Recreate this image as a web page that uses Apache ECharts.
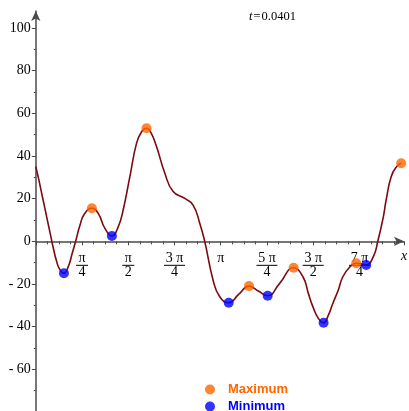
<!DOCTYPE html>
<html>
<head>
<meta charset="utf-8">
<script src="https://cdn.jsdelivr.net/npm/echarts@6/dist/echarts.min.js"></script>
<style>html,body{margin:0;padding:0;background:#fff;}#c{width:409px;height:411px;}</style>
</head>
<body>
<div id="c"></div>
<script>
// ---- data ----
const curveX = [0.000, 0.050, 0.100, 0.150, 0.200, 0.250, 0.300, 0.350, 0.400, 0.478, 0.550, 0.620, 0.677, 0.750, 0.830, 0.953, 1.060, 1.174, 1.293, 1.400, 1.484, 1.598, 1.711, 1.800, 1.881, 1.960, 2.051, 2.192, 2.333, 2.531, 2.672, 2.786, 2.870, 3.011, 3.125, 3.277, 3.450, 3.622, 3.780, 3.939, 4.143, 4.380, 4.538, 4.630, 4.707, 4.800, 4.889, 4.970, 5.047, 5.139, 5.216, 5.338, 5.443, 5.530, 5.613, 5.734, 5.810, 5.904, 5.952, 6.037, 6.130, 6.207];
const curveY = [35.0, 29.0, 22.5, 16.0, 9.5, 3.0, -3.5, -9.0, -12.8, -15.0, -12.0, -5.5, 0.0, 7.5, 13.0, 15.5, 13.1, 6.1, 2.5, 6.8, 14.7, 30.3, 45.9, 51.5, 53.0, 50.7, 44.4, 31.9, 23.3, 20.1, 17.0, 8.4, 0.0, -18.1, -26.0, -28.8, -24.8, -21.0, -23.3, -25.5, -19.7, -12.4, -16.6, -24.4, -30.6, -36.1, -38.2, -34.6, -29.0, -22.8, -16.6, -11.9, -10.3, -10.6, -11.1, -7.2, 0.0, 11.5, 19.4, 30.3, 35.0, 36.6];
const maxX = [0.953, 1.881, 3.622, 4.380, 5.443, 6.207];
const maxY = [15.5, 53.0, -21.0, -12.4, -10.3, 36.6];
const minX = [0.478, 1.293, 3.277, 3.939, 4.889, 5.613];
const minY = [-15.0, 2.5, -28.8, -25.5, -38.2, -11.1];
const xTickLabels = ['', 'π/4', 'π/2', '3 π/4', 'π', '5 π/4', '3 π/2', '7 π/4', ''];
const yTickLabels = [-60, -40, -20, 0, 20, 40, 60, 80, 100];
const titleValue = '0.0401';
// ---------------------------------------------

const serif = 'Liberation Serif';
const axisColor = '#4a4a4a';
const q = Math.PI / 4;
const X_MIN = 0, X_MAX = 6.255, Y_MIN = -80, Y_MAX = 108, Y_TICK_MAX = 100;

function fracLabel(value) {
  const k = Math.round(value / q);
  if (Math.abs(value - k * q) > 1e-6) return '';
  const t = xTickLabels[k] || '';
  if (!t) return '';
  if (t.indexOf('/') < 0) return '{n|' + t + '}';
  const parts = t.split('/');
  const bar = parts[0].length > 1 ? 'b2' : 'b1';
  return '{n|' + parts[0] + '}\n{' + bar + '| }\n{d|' + parts[1] + '}';
}

// pixel geometry of the plot
const gLeft = 35.8, gTop = 10.9, gWidth = 368.2, gHeight = 401.1;
const pxPerY = gHeight / (Y_MAX - Y_MIN);
const zeroPix = gTop + pxPerY * (Y_MAX - 0);
const tickTop = gTop + pxPerY * (Y_MAX - Y_TICK_MAX);

const chart = echarts.init(document.getElementById('c'), null, {renderer: 'canvas'});
chart.setOption({
  animation: false,
  backgroundColor: '#fff',
  title: {
    text: '{i|t}{e|=}' + titleValue,
    left: 249, top: 10, padding: 0,
    textStyle: {
      fontFamily: serif, fontSize: 12.5, fontWeight: 'normal', color: '#000',
      rich: {
        i: {fontFamily: serif, fontStyle: 'italic', fontSize: 12.5, color: '#000'},
        e: {fontFamily: serif, fontSize: 12.5, color: '#000', padding: [0, 1, 0, 1]}
      }
    }
  },
  graphic: [{
    type: 'text', left: 401, top: 249,
    style: {text: 'x', fontFamily: serif, fontStyle: 'italic', fontSize: 14, fill: '#000'}
  }],
  legend: {
    orient: 'vertical', left: 205, top: 382.5, height: 40, padding: 0,
    itemWidth: 26, itemHeight: 10, itemGap: 3,
    icon: 'circle',
    textStyle: {fontFamily: 'Liberation Sans', fontWeight: 'bold', fontSize: 13, lineHeight: 14},
    data: [
      {name: 'Maximum', textStyle: {color: '#ff6600'}},
      {name: 'Minimum', textStyle: {color: '#0000ff'}}
    ]
  },
  grid: [
    {left: gLeft, top: gTop, width: gWidth, height: gHeight, containLabel: false, outerBoundsMode: 'none'},
    {left: gLeft, top: gTop, width: gWidth, height: zeroPix - gTop, containLabel: false, outerBoundsMode: 'none'},
    {left: gLeft, top: tickTop, width: gWidth, height: gTop + gHeight - tickTop, containLabel: false, outerBoundsMode: 'none'}
  ],
  xAxis: [
    {gridIndex: 0, type: 'value', min: X_MIN, max: X_MAX, show: false},
    {
      gridIndex: 1, type: 'value', min: X_MIN, max: X_MAX, interval: q, position: 'bottom',
      axisLine: {onZero: false, lineStyle: {color: axisColor, width: 1.5}, symbol: ['none', 'arrow'], symbolSize: [7, 10]},
      axisTick: {show: true, length: 4, lineStyle: {color: axisColor, width: 1}},
      minorTick: {show: true, splitNumber: 4, length: 3, lineStyle: {color: axisColor, width: 1}},
      splitLine: {show: false},
      axisLabel: {
        margin: 11, formatter: fracLabel, color: '#000', fontFamily: serif, fontSize: 14,
        showMinLabel: true, showMaxLabel: true, hideOverlap: false,
        rich: {
          n: {fontFamily: serif, fontSize: 14, lineHeight: 12, color: '#000', align: 'center'},
          d: {fontFamily: serif, fontSize: 14, lineHeight: 13, color: '#000', align: 'center'},
          b1: {width: 12, height: 1, lineHeight: 2, backgroundColor: '#000', fontSize: 1, align: 'center'},
          b2: {width: 21, height: 1, lineHeight: 2, backgroundColor: '#000', fontSize: 1, align: 'center'}
        }
      }
    },
    {gridIndex: 2, type: 'value', min: 0, max: 1, show: false}
  ],
  yAxis: [
    {
      gridIndex: 0, type: 'value', min: Y_MIN, max: Y_MAX,
      axisLine: {onZero: false, lineStyle: {color: axisColor, width: 1.5}, symbol: ['none', 'arrow'], symbolSize: [7, 10]},
      axisTick: {show: false}, minorTick: {show: false}, axisLabel: {show: false}, splitLine: {show: false}
    },
    {gridIndex: 1, type: 'value', min: 0, max: 1, show: false},
    {
      gridIndex: 2, type: 'value', min: Y_MIN, max: Y_TICK_MAX, interval: 20,
      axisLine: {show: false, onZero: false},
      axisTick: {show: true, length: 4, lineStyle: {color: axisColor, width: 1}},
      minorTick: {show: true, splitNumber: 2, length: 2, lineStyle: {color: axisColor, width: 1}},
      splitLine: {show: false},
      axisLabel: {
        margin: 5, color: '#000', fontFamily: serif, fontSize: 14,
        formatter: function (v) {
          if (yTickLabels.indexOf(v) < 0) return '';
          return v < 0 ? '- ' + Math.abs(v) : String(v);
        }
      }
    }
  ],
  series: [
    {
      name: 'curve', type: 'line', showSymbol: false, symbol: 'none', smooth: 0.5,
      xAxisIndex: 0, yAxisIndex: 0,
      lineStyle: {color: '#7a0a10', width: 1.6},
      data: curveX.map((x, i) => [x, curveY[i]]),
      z: 2
    },
    {
      name: 'Maximum', type: 'scatter', symbol: 'circle', symbolSize: 10,
      xAxisIndex: 0, yAxisIndex: 0,
      itemStyle: {color: '#ff6600'},
      data: maxX.map((x, i) => [x, maxY[i]]),
      z: 3
    },
    {
      name: 'Minimum', type: 'scatter', symbol: 'circle', symbolSize: 10,
      xAxisIndex: 0, yAxisIndex: 0,
      itemStyle: {color: '#0000ff'},
      data: minX.map((x, i) => [x, minY[i]]),
      z: 3
    }
  ]
});
</script>
</body>
</html>
